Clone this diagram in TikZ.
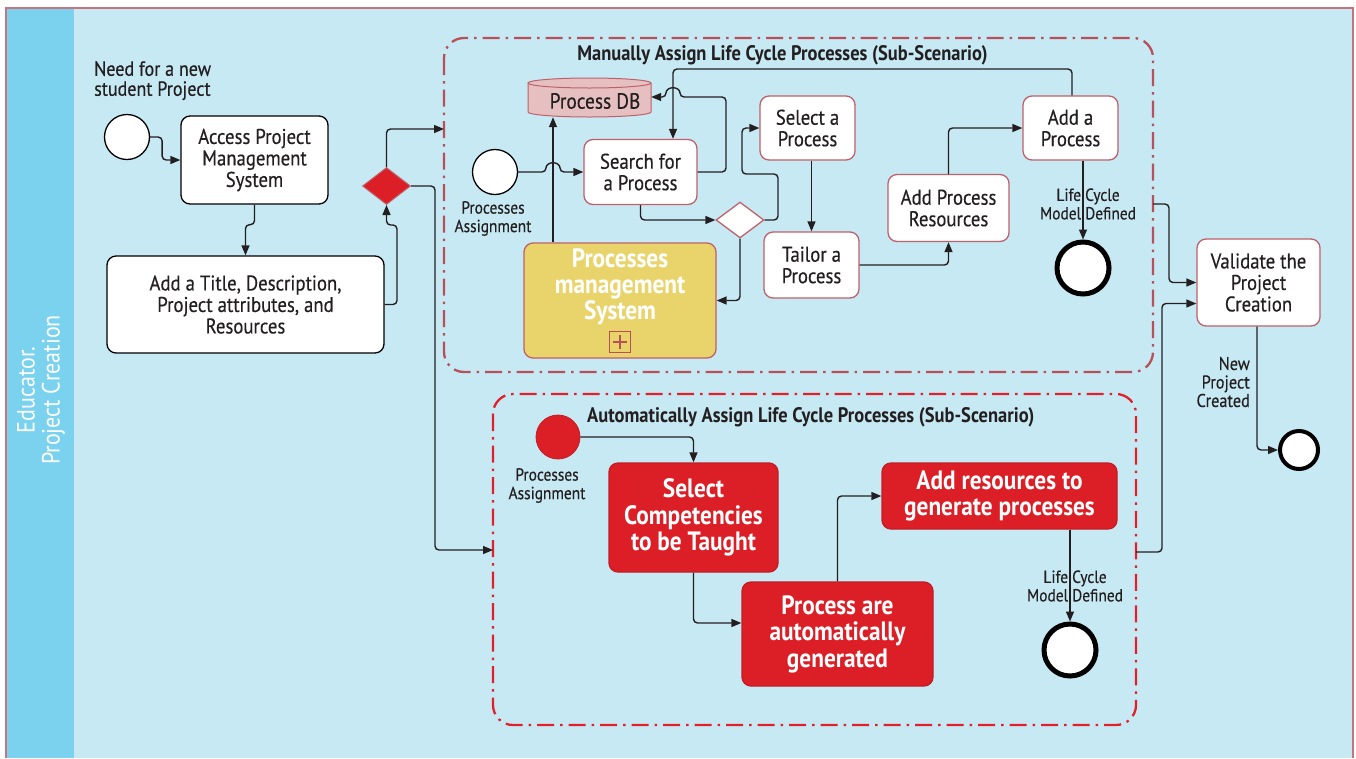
\documentclass[tikz,border=0pt]{standalone}
\usepackage{fontspec}
\setmainfont{PT Sans}[FakeStretch=0.88]
\newfontfamily\medfont{PT Sans}[FakeStretch=0.88, FakeBold=0.35]
\usetikzlibrary{arrows.meta,shapes.geometric,calc}
\definecolor{bgc}{HTML}{C7E9F3}
\definecolor{lanec}{HTML}{7BD2EE}
\definecolor{outerc}{HTML}{C8747C}
\definecolor{pinkb}{HTML}{C0606A}
\definecolor{mframec}{HTML}{B8505A}
\definecolor{aframec}{HTML}{E0202A}
\definecolor{redf}{HTML}{DC1F26}
\definecolor{redb}{HTML}{C41C24}
\definecolor{yellowf}{HTML}{E9D46C}
\definecolor{dbf}{HTML}{E6C0C0}
\definecolor{txt}{HTML}{231F20}
\tikzset{
  task/.style={draw=black, fill=white, rounded corners=9pt, line width=1.3pt, align=center,
    inner sep=0pt, text=txt, font=\medfont\fontsize{21.3}{21.5}\selectfont},
  ptask/.style={task, draw=pinkb},
  rtask/.style={draw=redb, fill=redf, rounded corners=9pt, line width=1.3pt, align=center,
    inner sep=0pt, text=white, font=\fontsize{26.5}{26.5}\selectfont\bfseries},
  evt/.style={circle, draw=black, fill=white, line width=1.3pt, inner sep=0pt},
  endevt/.style={circle, draw=black, fill=white, line width=5pt, inner sep=0pt},
  flow/.style={draw=txt, line width=1.4pt, rounded corners=4pt, -{Triangle[length=10pt,width=8pt]}},
  small/.style={align=center, text=txt, inner sep=0pt, font=\medfont\fontsize{17.5}{18.5}\selectfont},
  ttl/.style={text=txt, inner sep=0pt, font=\fontsize{21}{22}\selectfont\bfseries},
  frame/.style={line width=2.3pt, rounded corners=20pt, dash pattern=on 17pt off 6pt on 2.5pt off 6pt}
}
\begin{document}
\begin{tikzpicture}[x=1pt,y=-1pt]
\useasboundingbox (0,0) rectangle (1356,758);
\fill[white] (0,0) rectangle (1356,758);
\fill[bgc] (6,8) rectangle (1353,758);
\fill[lanec] (6,8) rectangle (74,758);
\draw[outerc, line width=1.6pt] (6,758) -- (6,8) -- (1353,8) -- (1353,758);
\node[rotate=90, text=white, align=center, inner sep=0pt, font=\fontsize{25}{25}\selectfont] (lane) at (41,390) {Educator.\\Project Creation};

% frames
\draw[frame, mframec] (444,38) rectangle (1153,372);
\draw[frame, aframec] (493,394) rectangle (1136,725);
\node[ttl, anchor=center] (mttl) at (782.5,55) {Manually Assign Life Cycle Processes (Sub-Scenario)};
\node[ttl, anchor=west] (attl) at (587,417) {Automatically Assign Life Cycle Processes (Sub-Scenario)};
\coordinate (m_in) at (444,129);
\coordinate (a_in) at (493,550);
\coordinate (m_out) at (1153,204);
\coordinate (a_out) at (1136,552);

% main lane
\node[evt, minimum size=45pt] (start) at (127,137) {};
\node[anchor=north west, align=left, inner sep=0pt, text=txt, font=\medfont\fontsize{20.5}{20}\selectfont] (need) at (94,61) {Need for a new\\student Project};
\node[task, minimum width=147pt, minimum height=88pt] (access) at (254.5,160) {Access Project\\Management\\System};
\node[task, minimum width=277pt, minimum height=97pt] (title) at (245.5,304.5) {Add a Title, Description,\\Project attributes, and\\Resources};
\node[diamond, draw=pinkb, fill=redf, line width=1pt, minimum width=48pt, minimum height=37pt, inner sep=0pt] (gw) at (386.5,186) {};

\draw[flow] (start.east) -- ++(12,0) |- (access.west);
\draw[flow] (access.south) -- ++(0,20) -| (title.north);
\draw[flow] (title.east) -- (397,304.5) -- (397,225) -- (386.5,225) -- (gw.south);
\draw[flow] (gw.north) |- (m_in);
\draw[flow] (gw.east) -| (435,550) -- (a_in);

% manual sub-scenario
\draw[pinkb, fill=dbf, line width=1pt] (528,83) -- (528,112) arc[start angle=180, end angle=360, x radius=61.5pt, y radius=5pt] -- (651,83);
\draw[pinkb, fill=dbf, line width=1pt] (589.5,83) ellipse [x radius=61.5pt, y radius=5pt];
\node[minimum width=123pt, minimum height=40pt, inner sep=0pt] (db) at (589.5,97) {};
\node[inner sep=0pt, text=txt, font=\medfont\fontsize{22}{22}\selectfont] (dbtext) at (595,101) {Process DB};

\node[evt, minimum size=45pt] (pstart) at (495,172) {};
\node[small] (plab) at (493,218.5) {Processes\\Assignment};
\node[ptask, minimum width=113pt, minimum height=65pt] (search) at (640.5,172) {Search for\\a Process};
\node[diamond, draw=pinkb, fill=white, line width=1.3pt, minimum width=48pt, minimum height=36pt, inner sep=0pt] (dg) at (740,220) {};
\node[ptask, minimum width=95pt, minimum height=64pt] (select) at (807.5,128) {Select a\\Process};
\node[ptask, minimum width=95pt, minimum height=66pt] (tailor) at (811.5,265) {Tailor a\\Process};
\node[ptask, minimum width=121pt, minimum height=67pt] (apr) at (948.5,208) {Add Process\\Resources};
\node[ptask, minimum width=95pt, minimum height=64pt] (addp) at (1070.5,128) {Add a\\Process};
\node[endevt, minimum size=52pt] (end1) at (1083,268) {};
\node[small] (lc1) at (1088,204) {Life Cycle\\Model Defined};
\node[rtask, fill=yellowf, draw=pinkb, minimum width=192pt, minimum height=115pt] (pm) at (620,300.5) {};
\node[text=white, align=center, inner sep=0pt, font=\fontsize{26.5}{26}\selectfont\bfseries] (pmtext) at (620,287) {Processes\\management\\System};
\node[draw=mframec, line width=1.2pt, minimum size=21pt, inner sep=0pt] (plus) at (620,342) {};
\draw[mframec, line width=2pt] ([xshift=-7pt]plus.center) -- ([xshift=7pt]plus.center);
\draw[mframec, line width=2pt] ([yshift=-7pt]plus.center) -- ([yshift=7pt]plus.center);

\draw[flow] (pstart.east) -- (546,172) .. controls (546,161) and (560,161) .. (560,172) -- (search.west);
\draw[flow] ([xshift=-67pt]pm.north) -- ([xshift=-36.5pt]db.south);
\draw[flow] (search.east) -- (726,172) -- (726,97) -- (680,97) .. controls (680,86) and (666,86) .. (666,97) -- (db.east);
\draw[flow] ([xshift=1.5pt]addp.north) -- (1072,69) -- (673,69) -- ([xshift=32.5pt]search.north);
\draw[flow] (search.south) |- (dg.west);
\draw[flow] (dg.east) -- (778,220) -- (778,174) -- (742,174) -- (742,128) -- (select.west);
\draw[flow] (dg.south) |- (pm.east);
\draw[flow] (tailor.north |- select.south) -- (tailor.north);
\draw[flow] (tailor.east) -| (apr.south);
\draw[flow] (apr.north) |- (addp.west);
\draw[flow] ([xshift=12.5pt]addp.south) -- (end1.north);

% validate
\node[ptask, minimum width=123pt, minimum height=87pt] (valid) at (1258.5,282.5) {Validate the\\Project\\Creation};
\node[endevt, line width=4pt, minimum size=38pt] (end3) at (1299,450) {};
\node[small, align=right, anchor=east, font=\medfont\fontsize{18.5}{18.5}\selectfont] (npc) at (1250,382) {New\\Project\\Created};
\draw[flow] (m_out) -- (1169,204) |- (valid.west);
\draw[flow] (a_out) -- (1162,552) |- ([yshift=-21pt]valid.west);
\draw[flow] ([xshift=-1.5pt]valid.south) |- (end3.west);

% automatic sub-scenario
\node[circle, fill=redf, draw=redb, line width=0.8pt, minimum size=44pt, inner sep=0pt] (astart) at (558,437) {};
\node[small] (alab) at (547,485.5) {Processes\\Assignment};
\node[rtask, minimum width=169pt, minimum height=109pt] (selc) at (693.5,517.5) {Select\\Competencies\\to be Taught};
\node[rtask, minimum width=191pt, minimum height=104pt] (pag) at (837.5,634) {Process are\\automatically\\generated};
\node[rtask, minimum width=235pt, minimum height=66pt] (addr) at (999.5,496) {Add resources to\\generate processes};
\node[endevt, minimum size=52pt] (end2) at (1070,650) {};
\node[small] (lc2) at (1075,586) {Life Cycle\\Model Defined};

\draw[flow] (astart.east) -| (selc.north);
\draw[flow] (selc.south) |- ([yshift=11pt]pag.west);
\draw[flow] (pag.north) |- (addr.west);
\draw[flow] ([xshift=70.5pt]addr.south) -- (end2.north);
\end{tikzpicture}
\end{document}
